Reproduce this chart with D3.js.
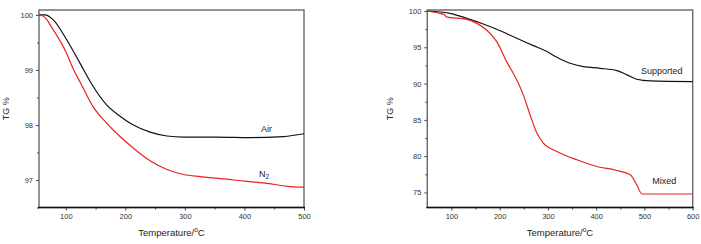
<!DOCTYPE html>
<html>
<head>
<meta charset="utf-8">
<script src="https://cdn.jsdelivr.net/npm/d3@7"></script>
<style>
  body { margin: 0; background: #fff; }
  text { font-family: "Liberation Sans", Arial, sans-serif; }
</style>
</head>
<body>
<div id="chart"></div>
<script>
(function () {
  // left panel: atmosphere comparison
  const airTemp = [55, 65, 79, 101.5, 124, 146, 169, 191, 213.5, 241.5, 270, 298, 354, 410, 466, 500];
  const airTG = [100, 100, 99.91, 99.55, 99.12, 98.70, 98.36, 98.16, 98.0, 97.87, 97.80, 97.78, 97.78, 97.77, 97.79, 97.84];
  const n2Temp = [55, 62, 79, 101.5, 112, 124, 146, 169, 191, 213.5, 241.5, 270, 298, 326, 382, 438, 477, 500];
  const n2TG = [100, 99.98, 99.73, 99.30, 99.03, 98.78, 98.33, 98.03, 97.79, 97.58, 97.35, 97.19, 97.10, 97.06, 97.0, 96.94, 96.88, 96.87];

  // right panel: catalyst comparison
  const supTemp = [50, 97, 132, 166, 201, 235.5, 270, 298, 318.5, 346, 373.5, 408, 443, 464, 484, 512, 600];
  const supTG = [100, 99.68, 98.99, 98.21, 97.29, 96.24, 95.23, 94.41, 93.63, 92.8, 92.34, 92.11, 91.79, 91.2, 90.6, 90.37, 90.28];
  const mixTemp = [50, 76, 86, 89, 132, 152.5, 173, 194, 214.5, 235.5, 249, 263, 277, 290.5, 318.5, 360, 401.5, 443, 470.5, 484, 495, 600];
  const mixTG = [100, 99.68, 99.5, 99.2, 98.85, 98.3, 97.39, 95.78, 93.03, 90.5, 88.45, 85.7, 83.18, 81.8, 80.65, 79.5, 78.58, 78.03, 77.44, 76.07, 74.79, 74.79];

  const leftXTicks = [100, 200, 300, 400, 500];
  const leftYTicks = [97, 98, 99, 100];
  const rightXTicks = [100, 200, 300, 400, 500, 600];
  const rightYTicks = [75, 80, 85, 90, 95, 100];

  const svg = d3.select("#chart").append("svg")
    .attr("width", 701)
    .attr("height", 244);

  function panel(opts) {
    const x = d3.scaleLinear().domain(opts.xDomain).range([opts.left, opts.right]);
    const y = d3.scaleLinear().domain(opts.yDomain).range([opts.bottom, opts.top]);
    const g = svg.append("g");

    // minor ticks
    g.append("g")
      .attr("transform", "translate(0," + opts.bottom + ")")
      .call(d3.axisBottom(x).tickValues(opts.xMinor).tickSize(2).tickFormat(""))
      .call(a => a.select(".domain").remove());
    g.append("g")
      .attr("transform", "translate(" + opts.left + ",0)")
      .call(d3.axisLeft(y).tickValues(opts.yMinor).tickSize(2).tickFormat(""))
      .call(a => a.select(".domain").remove());

    const xa = g.append("g")
      .attr("transform", "translate(0," + opts.bottom + ")")
      .call(d3.axisBottom(x).tickValues(opts.xTicks).tickSize(3).tickPadding(3).tickFormat(d3.format("d")));
    const ya = g.append("g")
      .attr("transform", "translate(" + opts.left + ",0)")
      .call(d3.axisLeft(y).tickValues(opts.yTicks).tickSize(3).tickPadding(3).tickFormat(d3.format("d")));
    xa.select(".domain").remove();
    ya.select(".domain").remove();
    g.selectAll(".tick text").attr("font-size", 7.5).attr("fill", "#333")
      .attr("font-family", "Liberation Sans, Arial, sans-serif");
    g.selectAll(".tick line").attr("stroke", "#444");

    // frame
    g.append("rect")
      .attr("x", opts.left).attr("y", opts.top)
      .attr("width", opts.right - opts.left)
      .attr("height", opts.bottom - opts.top)
      .attr("fill", "none").attr("stroke", "#666").attr("stroke-width", 1.4);
    g.append("line")
      .attr("x1", opts.left - 1).attr("x2", opts.right + 1)
      .attr("y1", opts.bottom).attr("y2", opts.bottom)
      .attr("stroke", "#111").attr("stroke-width", 1.4);

    const line = d3.line()
      .x(d => x(d[0])).y(d => y(d[1]))
      .curve(d3.curveMonotoneX);

    opts.series.forEach(s => {
      g.append("path")
        .datum(d3.zip(s.t, s.v))
        .attr("fill", "none")
        .attr("stroke", s.color)
        .attr("stroke-width", 1.2)
        .attr("d", line);
    });

    opts.labels.forEach(l => {
      const t = g.append("text")
        .attr("x", x(l.t)).attr("y", y(l.v))
        .attr("text-anchor", "middle")
        .attr("font-size", 9)
        .attr("fill", "#222");
      t.append("tspan").text(l.text);
      if (l.sub) {
        t.append("tspan").attr("font-size", 6.5).attr("dy", 1.5).text(l.sub);
      }
    });

    // axis titles
    const xt = g.append("text")
      .attr("x", (opts.left + opts.right) / 2)
      .attr("y", 236)
      .attr("text-anchor", "middle")
      .attr("font-size", 9.5)
      .attr("fill", "#222");
    xt.append("tspan").text("Temperature/");
    xt.append("tspan").attr("font-size", 6.5).attr("dy", -4).text("o");
    xt.append("tspan").attr("dy", 4).text("C");

    g.append("text")
      .attr("transform", "translate(" + opts.yTitleX + "," + ((opts.top + opts.bottom) / 2) + ") rotate(-90)")
      .attr("text-anchor", "middle")
      .attr("font-size", 9)
      .attr("fill", "#222")
      .text("TG %");
  }

  panel({
    left: 39, right: 304, top: 10, bottom: 207.5,
    xDomain: [55, 500], yDomain: [96.5, 100.09],
    xTicks: leftXTicks, yTicks: leftYTicks,
    xMinor: [150, 250, 350, 450], yMinor: [96.5, 97.5, 98.5, 99.5],
    yTitleX: 9,
    series: [
      { t: airTemp, v: airTG, color: "#111" },
      { t: n2Temp, v: n2TG, color: "#e8231f" }
    ],
    labels: [
      { t: 437, v: 97.88, text: "Air" },
      { t: 433, v: 97.05, text: "N", sub: "2" }
    ]
  });

  panel({
    left: 427.3, right: 692.7, top: 10, bottom: 207.5,
    xDomain: [50, 600], yDomain: [72.93, 100.14],
    xTicks: rightXTicks, yTicks: rightYTicks,
    xMinor: [150, 250, 350, 450, 550], yMinor: [77.5, 82.5, 87.5, 92.5, 97.5],
    yTitleX: 393,
    series: [
      { t: supTemp, v: supTG, color: "#111" },
      { t: mixTemp, v: mixTG, color: "#e8231f" }
    ],
    labels: [
      { t: 536, v: 91.27, text: "Supported" },
      { t: 541, v: 76.14, text: "Mixed" }
    ]
  });
})();
</script>
</body>
</html>
